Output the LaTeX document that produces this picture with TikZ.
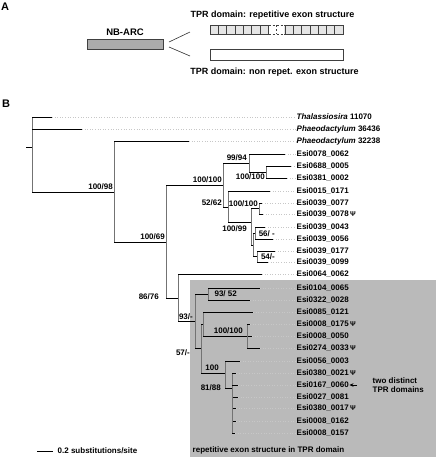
\documentclass[tikz,border=0pt]{standalone}
\usepackage{fontspec}
\setmainfont{Liberation Sans}
\usetikzlibrary{arrows.meta}
\tikzset{
  hbranch/.style={black, line width=0.9pt},
  vbranch/.style={black!55, line width=0.9pt},
  leader/.style={black!22, dotted, line width=0.6pt},
  taxon/.style={anchor=west, inner sep=0.5pt, font=\bfseries\fontsize{8}{9}\selectfont},
  support/.style={anchor=east, inner sep=0pt, font=\bfseries\fontsize{8}{9}\selectfont},
  panel/.style={inner sep=0pt, font=\bfseries\fontsize{11}{12}\selectfont},
  domtext/.style={inner sep=0pt, font=\bfseries\fontsize{9}{10}\selectfont},
  dombox/.style={draw=black!75, line width=0.6pt, minimum height=9pt, inner sep=0pt},
}
\newcommand{\treebranch}[2]{%
  \draw[vbranch] (#1) -- (#1 |- #2);
  \draw[hbranch] (#1 |- #2) -- (#2);}
\newcommand{\pseudo}{\,{\fontsize{7}{8}\selectfont Ψ}}
\begin{document}
\begin{tikzpicture}[x=1pt, y=-1pt]
    \useasboundingbox (0,0) rectangle (437,459);
    % panel A
    \node[panel] (pa) at (5,7) {A};
    \node[dombox, fill=black!33, minimum width=76pt, minimum height=10pt] (nbarc) at (125,44) {};
    \node[domtext, font=\bfseries\fontsize{9.5}{10}\selectfont] (nbarctxt) at (125,32) {NB-ARC};
    \node[dombox, fill=black!10, minimum width=133pt] (rep) at (276.5,29.5) {};
    \node[dombox, fill=white, minimum width=133pt, minimum height=11pt] (nonrep) at (276.5,54.5) {};
    \foreach \i in {1,2,3,4,5,6,7,9,10,11,12,13,14,15}
        \draw[black!75, line width=0.5pt] (210+\i*8.3125,25) -- ++(0,9);
    \fill[white] (268.6,24.4) rectangle (284.4,34.6);
    \draw[black!75, dashed, dash pattern=on 2pt off 2pt, line width=0.6pt] (268.6,25) -- (284.4,25);
    \draw[black!75, dashed, dash pattern=on 2pt off 2pt, line width=0.6pt] (268.6,34) -- (284.4,34);
    \draw[black!75, dashed, dash pattern=on 2pt off 2pt, line width=0.5pt] (276.5,25) -- (276.5,34);
    \node[domtext] (reptxt) at (272.5,15) {TPR domain: repetitive exon structure};
    \node[domtext] (nonreptxt) at (274.5,72) {TPR domain: non repet. exon structure};
    \coordinate (fa) at (169,42);
    \coordinate (fb) at (169,47);
    \coordinate (ga) at (190,32);
    \coordinate (gb) at (190,56);
    \draw[black!80, line width=0.6pt] (fa) -- (ga);
    \draw[black!80, line width=0.6pt] (fb) -- (gb);
    % panel B
    \node[panel] (pb) at (6,104) {B};
    \fill[black!27] (190,280) rectangle (436,457);
    \coordinate (r) at (32,147);
    \coordinate (n1) at (114,192);
    \coordinate (n2) at (166,242);
    \coordinate (n3) at (223,185);
    \coordinate (n4) at (249,163);
    \coordinate (n5) at (266,172);
    \coordinate (n6) at (228,207);
    \coordinate (n7) at (251,222);
    \coordinate (n8) at (259,208);
    \coordinate (n9) at (253,245);
    \coordinate (n10) at (255,233);
    \coordinate (n11) at (257,256);
    \coordinate (n12) at (178,298);
    \coordinate (n13) at (195,321);
    \coordinate (n14) at (208,294);
    \coordinate (n15) at (201,348);
    \coordinate (n16) at (203,324);
    \coordinate (n17) at (247,336);
    \coordinate (n18) at (225,373);
    \coordinate (n19) at (232,388);
    \coordinate (thal) at (52,117);
    \coordinate (pha1) at (82,129);
    \coordinate (pha2) at (189,141);
    \coordinate (e0078) at (285,154);
    \coordinate (e0688) at (291,166);
    \coordinate (e0381) at (287,178);
    \coordinate (e0015) at (270,191);
    \coordinate (e0077) at (262,203);
    \coordinate (e0078p) at (263,214);
    \coordinate (e0043) at (265,227);
    \coordinate (e0056) at (273,239);
    \coordinate (e0177) at (275,251);
    \coordinate (e0099) at (268,262);
    \coordinate (e0064) at (262,274);
    \coordinate (e0104) at (260,288);
    \coordinate (e0322) at (250,300);
    \coordinate (e0085) at (253,312);
    \coordinate (e0175) at (250,324);
    \coordinate (e0050) at (252,336);
    \coordinate (e0274) at (260,348);
    \coordinate (e5603) at (240,361);
    \coordinate (e0021) at (236,373);
    \coordinate (e0167) at (238,385);
    \coordinate (e0027) at (238,397);
    \coordinate (e0017) at (236,408);
    \coordinate (e0162) at (236,421);
    \coordinate (e0157) at (235,433);
    \draw[hbranch] (26,147) -- (r);
    \treebranch{r}{thal}
    \treebranch{r}{pha1}
    \treebranch{r}{n1}
    \treebranch{n1}{pha2}
    \treebranch{n1}{n2}
    \treebranch{n2}{n3}
    \treebranch{n2}{n12}
    \treebranch{n3}{n4}
    \treebranch{n3}{n6}
    \treebranch{n4}{e0078}
    \treebranch{n4}{n5}
    \treebranch{n5}{e0688}
    \treebranch{n5}{e0381}
    \treebranch{n6}{e0015}
    \treebranch{n6}{n7}
    \treebranch{n7}{n8}
    \treebranch{n7}{n9}
    \treebranch{n8}{e0077}
    \treebranch{n8}{e0078p}
    \treebranch{n9}{n10}
    \treebranch{n9}{n11}
    \treebranch{n10}{e0043}
    \treebranch{n10}{e0056}
    \treebranch{n11}{e0177}
    \treebranch{n11}{e0099}
    \treebranch{n12}{e0064}
    \treebranch{n12}{n13}
    \treebranch{n13}{n14}
    \treebranch{n13}{n15}
    \treebranch{n14}{e0104}
    \treebranch{n14}{e0322}
    \treebranch{n15}{n16}
    \treebranch{n15}{n18}
    \treebranch{n16}{e0085}
    \treebranch{n16}{n17}
    \treebranch{n17}{e0175}
    \treebranch{n17}{e0050}
    \treebranch{n17}{e0274}
    \treebranch{n18}{e5603}
    \treebranch{n18}{n19}
    \treebranch{n19}{e0021}
    \treebranch{n19}{e0167}
    \treebranch{n19}{e0027}
    \treebranch{n19}{e0017}
    \treebranch{n19}{e0162}
    \treebranch{n19}{e0157}
    % support values
    \node[support] (s1) at (113,187) {100/98};
    \node[support] (s2) at (165,237) {100/69};
    \node[support] (s3) at (159,297) {86/76};
    \node[support] (s4) at (222,180) {100/100};
    \node[support] (s5) at (247,158) {99/94};
    \node[support] (s6) at (265,177) {100/100};
    \node[support] (s7) at (222,203) {52/62};
    \node[support] (s8) at (258,204) {100/100};
    \node[support] (s9) at (247,229) {100/99};
    \node[support] (s10) at (275,234) {56/ -};
    \node[support] (s11) at (275,257) {54/-};
    \node[support] (s12) at (237,294) {93/ 52};
    \node[support] (s13) at (193,317) {93/-};
    \node[support] (s14) at (190,353) {57/-};
    \node[support] (s15) at (243,331) {100/100};
    \node[support] (s16) at (219,368) {100};
    \node[support] (s17) at (221,388) {81/88};
    % taxa
    \node[taxon] (lthal) at (296,117) {\textit{Thalassiosira} 11070};
    \node[taxon] (lpha1) at (296,129) {\textit{Phaeodactylum} 36436};
    \node[taxon] (lpha2) at (296,141) {\textit{Phaeodactylum} 32238};
    \node[taxon] (l0078) at (296,154) {Esi0078\_0062};
    \node[taxon] (l0688) at (296,166) {Esi0688\_0005};
    \node[taxon] (l0381) at (296,178) {Esi0381\_0002};
    \node[taxon] (l0015) at (296,191) {Esi0015\_0171};
    \node[taxon] (l0077) at (296,203) {Esi0039\_0077};
    \node[taxon] (l0078p) at (296,214) {Esi0039\_0078\pseudo};
    \node[taxon] (l0043) at (296,227) {Esi0039\_0043};
    \node[taxon] (l0056) at (296,239) {Esi0039\_0056};
    \node[taxon] (l0177) at (296,251) {Esi0039\_0177};
    \node[taxon] (l0099) at (296,262) {Esi0039\_0099};
    \node[taxon] (l0064) at (296,274) {Esi0064\_0062};
    \node[taxon] (l0104) at (296,288) {Esi0104\_0065};
    \node[taxon] (l0322) at (296,300) {Esi0322\_0028};
    \node[taxon] (l0085) at (296,312) {Esi0085\_0121};
    \node[taxon] (l0175) at (296,324) {Esi0008\_0175\pseudo};
    \node[taxon] (l0050) at (296,336) {Esi0008\_0050};
    \node[taxon] (l0274) at (296,348) {Esi0274\_0033\pseudo};
    \node[taxon] (l5603) at (296,361) {Esi0056\_0003};
    \node[taxon] (l0021) at (296,373) {Esi0380\_0021\pseudo};
    \node[taxon] (l0167) at (296,385) {Esi0167\_0060};
    \node[taxon] (l0027) at (296,397) {Esi0027\_0081};
    \node[taxon] (l0017) at (296,408) {Esi0380\_0017\pseudo};
    \node[taxon] (l0162) at (296,421) {Esi0008\_0162};
    \node[taxon] (l0157) at (296,433) {Esi0008\_0157};
    \foreach \t/\l in {thal/lthal, pha1/lpha1, pha2/lpha2, e0078/l0078, e0688/l0688,
        e0381/l0381, e0015/l0015, e0077/l0077, e0078p/l0078p, e0043/l0043, e0056/l0056,
        e0177/l0177, e0099/l0099, e0064/l0064, e0104/l0104, e0322/l0322, e0085/l0085,
        e0175/l0175, e0050/l0050, e0274/l0274, e5603/l5603, e0021/l0021, e0167/l0167,
        e0027/l0027, e0017/l0017, e0162/l0162, e0157/l0157}
        \draw[leader] (\t) -- (\l.west);
    % annotations
    \node[taxon, align=left, font=\fontsize{8}{9}\selectfont\bfseries] (twotpr) at (372,385) {two distinct\\TPR domains};
    \coordinate (atail) at (357,385);
    \draw[-{Stealth[length=4pt,width=3.5pt]}, line width=0.6pt] (atail) -- (l0167.east);
    \node[taxon] (boxtxt) at (192,450) {repetitive exon structure in TPR domain};
    \coordinate (sb1) at (37,451);
    \coordinate (sb2) at (53,451);
    \draw[black, line width=0.8pt] (sb1) -- (sb2);
    \node[taxon] (sbtxt) at (57,451) {0.2 substitutions/site};
\end{tikzpicture}
\end{document}
